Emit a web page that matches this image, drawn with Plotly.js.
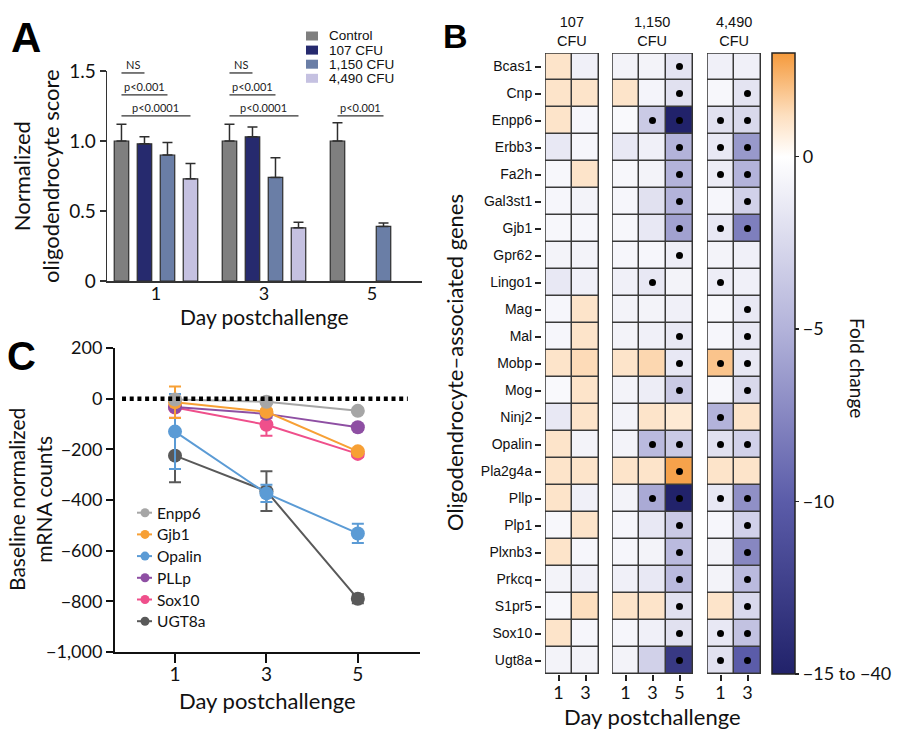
<!DOCTYPE html>
<html><head><meta charset="utf-8">
<script src="https://cdn.plot.ly/plotly-3.0.1.min.js"></script>
<style>html,body{margin:0;padding:0;background:#fff}#chart{width:900px;height:733px}</style>
</head><body><div id="chart"></div>
<script>
// ---------------- Panel A data ----------------
const daysA = [1, 3, 5];
const groupNames = ['Control', '107 CFU', '1,150 CFU', '4,490 CFU'];
const groupColors = ['#7f7f7f', '#262a6e', '#6a7ea6', '#c5c1e1'];
const scoreControl = [1.00, 1.00, 1.00];
const score107 = [0.98, 1.03, null];
const score1150 = [0.90, 0.74, 0.39];
const score4490 = [0.73, 0.38, null];
const errControl = [0.12, 0.12, 0.13];
const err107 = [0.05, 0.07, 0];
const err1150 = [0.09, 0.14, 0.025];
const err4490 = [0.11, 0.04, 0];
const sigDay = [1, 1, 1, 3, 3, 3, 5];
const sigGroup = [1, 2, 3, 1, 2, 3, 2];
const sigRank = [0, 1, 2, 0, 1, 2, 2];
const sigText = ['NS', 'p<0.001', 'p<0.0001', 'NS', 'p<0.001', 'p<0.0001', 'p<0.001'];

// ---------------- Panel C data ----------------
const daysC = [1, 3, 5];
const geneNamesC = ['Enpp6', 'Gjb1', 'Opalin', 'PLLp', 'Sox10', 'UGT8a'];
const geneColorsC = ['#a6a6a6', '#f7a035', '#5b9bd5', '#8e4fa3', '#ef4f8b', '#595959'];
const countsEnpp6 = [-3, -12, -48];
const countsGjb1 = [-14, -52, -208];
const countsOpalin = [-130, -374, -532];
const countsPllp = [-33, -60, -113];
const countsSox10 = [-35, -103, -218];
const countsUgt8a = [-225, -365, -790];
const errEnpp6 = [8, 8, 8];
const errGjb1 = [62, 10, 10];
const errOpalin = [148, 34, 38];
const errPllp = [10, 15, 10];
const errSox10 = [40, 43, 12];
const errUgt8a = [105, 78, 18];
const yTicksC = [200, 0, -200, -400, -600, -800, -1000];
const yTickTextC = ['200', '0', '\u2212200', '\u2212400', '\u2212600', '\u2212800', '\u22121,000'];

// ---------------- Panel B data ----------------
const genes = ['Bcas1','Cnp','Enpp6','Erbb3','Fa2h','Gal3st1','Gjb1','Gpr62','Lingo1','Mag','Mal','Mobp','Mog','Ninj2','Opalin','Pla2g4a','Pllp','Plp1','Plxnb3','Prkcq','S1pr5','Sox10','Ugt8a'];
const fold107D1  = [1.0, 1.0, 1.0, -1.5, -0.5, -0.6, -0.5, -0.8, -1.5, -0.6, -0.6, 1.0, -0.4, -1.5, 1.0, 1.0, 1.0, -0.5, 1.0, -0.8, -0.5, 1.0, -0.8];
const fold107D3  = [-1.0, 1.0, -0.6, -0.6, 1.0, -0.8, -0.6, -0.8, -1.0, 1.0, 1.0, 1.3, 1.0, 1.0, -0.8, 1.0, -1.0, 1.0, -0.6, -1.0, 1.2, -0.6, -0.8];
const fold1150D1 = [-0.8, 1.0, -0.4, -1.5, -0.5, -0.6, -0.5, -0.6, -1.0, -0.8, -0.8, 1.0, -0.8, -0.8, -0.8, 1.0, -0.8, -0.6, -0.6, -1.0, 1.0, -0.6, -0.8];
const fold1150D3 = [-0.8, -0.7, -3.5, -1.0, -0.8, -2.0, -1.5, -0.6, -1.5, -0.8, -1.0, 1.4, -1.2, 1.0, -4.5, 1.0, -5.5, -1.5, -0.8, -1.5, 1.0, -1.0, -3.0];
const fold1150D5 = [-1.8, -2.0, -15, -5.0, -5.0, -5.0, -6.0, -1.2, -0.8, -1.0, -1.5, -1.5, -3.5, 0.8, -3.5, 2.8, -15, -3.5, -4.5, -4.5, -2.0, -2.0, -13];
const fold4490D1 = [-1.0, -0.5, -2.0, -1.5, -1.2, -0.6, -1.5, -0.8, -1.2, -0.5, -0.6, 1.9, -0.5, -5.0, -2.0, 1.0, -1.5, -0.6, -0.8, -0.8, 1.0, -1.5, -2.0];
const fold4490D3 = [-1.0, -1.8, -2.5, -6.5, -5.0, -3.0, -8.0, -1.0, -1.0, -1.5, -1.5, -1.5, -2.5, 1.0, -3.0, 1.0, -7.0, -3.0, -7.5, -4.5, -2.5, -4.0, -10];
const dot107D1  = [0,0,0,0,0,0,0,0,0,0,0,0,0,0,0,0,0,0,0,0,0,0,0];
const dot107D3  = [0,0,0,0,0,0,0,0,0,0,0,0,0,0,0,0,0,0,0,0,0,0,0];
const dot1150D1 = [0,0,0,0,0,0,0,0,0,0,0,0,0,0,0,0,0,0,0,0,0,0,0];
const dot1150D3 = [0,0,1,0,0,0,0,0,1,0,0,0,0,0,1,0,1,0,0,0,0,0,0];
const dot1150D5 = [1,1,1,1,1,1,1,1,0,0,1,1,1,0,1,1,1,1,1,1,1,1,1];
const dot4490D1 = [0,0,1,1,1,0,1,0,1,0,0,1,0,1,1,0,1,0,0,0,0,1,1];
const dot4490D3 = [0,1,1,1,1,1,1,0,0,1,1,1,1,0,1,0,1,1,1,1,1,1,1];
const blockNames = ['107<br>CFU', '1,150<br>CFU', '4,490<br>CFU'];
const blockDays = [['1','3'], ['1','3','5'], ['1','3']];
const colorbarTicks = [0, -5, -10, -15];
const colorbarText = ['0', '\u22125', '\u221210', '\u221215 to \u221240'];

// ---------------- helpers ----------------
const W = 900, H = 733;
const fx = v => v / W;
const fy = v => 1 - v / H;
const CAL = 'Lato, "Open Sans", sans-serif';
const ARI = '"Liberation Sans", Arial, sans-serif';

const data = [];
const shapes = [];
const annotations = [];

// ---------------- Panel A ----------------
const bargap = 0.148, bargroupgap = 0.37;
const slot = 2 * (1 - bargap) / groupNames.length;
const offsetOf = g => (g - (groupNames.length - 1) / 2) * slot;
const scoreSeries = [scoreControl, score107, score1150, score4490];
const errSeries = [errControl, err107, err1150, err4490];
groupNames.forEach((name, i) => {
  data.push({
    type: 'bar', x: daysA, y: scoreSeries[i], name: name, xaxis: 'x', yaxis: 'y',
    marker: {color: groupColors[i], line: {color: '#2e2e2e', width: 1.2}},
    error_y: {type: 'data', symmetric: false, array: errSeries[i], arrayminus: daysA.map(() => 0),
              color: '#2e2e2e', thickness: 1.5, width: 5},
    showlegend: false, hoverinfo: 'skip'
  });
});
const sigLevels = [1.486, 1.329, 1.179];
sigText.forEach((t, k) => {
  const x0 = sigDay[k] + offsetOf(0), x1 = sigDay[k] + offsetOf(sigGroup[k]);
  const yl = sigLevels[sigRank[k]];
  shapes.push({type: 'line', xref: 'x', yref: 'y', x0: x0, x1: x1, y0: yl, y1: yl,
               line: {color: '#333', width: 1.3}});
  annotations.push({xref: 'x', yref: 'y', x: (x0 + x1) / 2, y: yl, yanchor: 'bottom', xanchor: 'center',
                    text: t, showarrow: false, font: {family: CAL, size: 11, color: '#222'}, yshift: 0});
});
// legend A
groupNames.forEach((name, i) => {
  const cy = 36 + i * 14.1;
  shapes.push({type: 'rect', xref: 'paper', yref: 'paper', x0: fx(306), x1: fx(318), y0: fy(cy + 4.5), y1: fy(cy - 4.5),
               fillcolor: groupColors[i], line: {width: 0}});
  annotations.push({xref: 'paper', yref: 'paper', x: fx(327), y: fy(cy), xanchor: 'left', yanchor: 'middle',
                    text: name, showarrow: false, font: {family: ARI, size: 13.5, color: '#111'}});
});

// ---------------- Panel C ----------------
const countsSeries = [countsEnpp6, countsGjb1, countsOpalin, countsPllp, countsSox10, countsUgt8a];
const errSeriesC = [errEnpp6, errGjb1, errOpalin, errPllp, errSox10, errUgt8a];
for (let i = geneNamesC.length - 1; i >= 0; i--) {
  data.push({
    type: 'scatter', mode: 'lines+markers', x: daysC, y: countsSeries[i], name: geneNamesC[i],
    xaxis: 'x2', yaxis: 'y2',
    line: {color: geneColorsC[i], width: 2},
    marker: {color: geneColorsC[i], size: 14},
    error_y: {type: 'data', array: errSeriesC[i], color: geneColorsC[i], thickness: 2, width: 6},
    showlegend: false, hoverinfo: 'skip'
  });
}
shapes.push({type: 'line', xref: 'x2 domain', yref: 'y2', x0: 0.023, x1: 0.96, y0: 0, y1: 0,
             line: {color: '#000', width: 4.5, dash: '4px,3.7px'}});
geneNamesC.forEach((name, i) => {
  const cy = 512.7 + i * 21.7;
  shapes.push({type: 'line', xref: 'paper', yref: 'paper', x0: fx(137), x1: fx(152), y0: fy(cy), y1: fy(cy),
               line: {color: geneColorsC[i], width: 2}});
  shapes.push({type: 'circle', xref: 'paper', yref: 'paper', xsizemode: 'pixel', ysizemode: 'pixel',
               xanchor: fx(145), yanchor: fy(cy), x0: -4.5, x1: 4.5, y0: -4.5, y1: 4.5,
               fillcolor: geneColorsC[i], line: {width: 0}});
  annotations.push({xref: 'paper', yref: 'paper', x: fx(155), y: fy(cy), xanchor: 'left', yanchor: 'middle',
                    text: name, showarrow: false, font: {family: CAL, size: 15.5, color: '#111'}});
});

// ---------------- Panel B ----------------
const foldColorscale = [[0, '#21226a'], [0.278, '#5b5ca9'], [0.556, '#b3b3da'], [0.833, '#ffffff'], [0.9, '#fddfbf'], [1, '#f59a3c']];
const blocks = [
  {cols: [fold107D1, fold107D3], dots: [dot107D1, dot107D3], xa: 'x3', dom: [545, 599], hx: 572},
  {cols: [fold1150D1, fold1150D3, fold1150D5], dots: [dot1150D1, dot1150D3, dot1150D5], xa: 'x4', dom: [612, 693], hx: 652},
  {cols: [fold4490D1, fold4490D3], dots: [dot4490D1, dot4490D3], xa: 'x5', dom: [707, 761], hx: 734}
];
const layoutAxes = {};
blocks.forEach((b, bi) => {
  const n = b.cols.length;
  const xs = b.cols.map((c, i) => i);
  const z = genes.map((g, r) => b.cols.map(c => c[r]));
  data.push({
    type: 'heatmap', x: xs, y: genes, z: z, xaxis: b.xa, yaxis: 'y3',
    zmin: -15, zmax: 3, colorscale: foldColorscale, xgap: 1.5, ygap: 1.5,
    showscale: bi === 0, hoverinfo: 'skip',
    colorbar: {x: fx(772), xanchor: 'left', xpad: 0, ypad: 0, y: fy(53), yanchor: 'top',
               len: 621 / H, lenmode: 'fraction', thickness: 23, thicknessmode: 'pixels',
               outlinewidth: 1.5, outlinecolor: '#222', tickvals: colorbarTicks, ticktext: colorbarText,
               ticks: 'outside', ticklen: 4, tickwidth: 1.5, tickcolor: '#222',
               tickfont: {family: CAL, size: 18, color: '#111'}}
  });
  const dx = [], dy = [];
  b.dots.forEach((d, ci) => d.forEach((v, r) => { if (v) { dx.push(ci); dy.push(genes[r]); } }));
  data.push({type: 'scatter', mode: 'markers', x: dx, y: dy, xaxis: b.xa, yaxis: 'y3',
             marker: {color: '#000', size: 7}, showlegend: false, hoverinfo: 'skip'});
  shapes.push({type: 'rect', layer: 'below', xref: b.xa, yref: 'y3', x0: -0.5, x1: n - 0.5, y0: -0.5, y1: genes.length - 0.5,
               fillcolor: '#3a3a3a', line: {width: 0}});
  shapes.push({type: 'rect', layer: 'above', xref: b.xa, yref: 'y3', x0: -0.5, x1: n - 0.5, y0: -0.5, y1: genes.length - 0.5,
               fillcolor: 'rgba(0,0,0,0)', line: {color: '#333', width: 1.5}});
  const key = 'xaxis' + b.xa.slice(1);
  layoutAxes[key] = {domain: [fx(b.dom[0]), fx(b.dom[1])], anchor: 'y3', range: [-0.5, n - 0.5],
    tickvals: xs, ticktext: blockDays[bi], ticks: 'outside', ticklen: 6, tickwidth: 2, tickcolor: '#222',
    ticklabelstandoff: -4,
    showline: false, showgrid: false, zeroline: false, tickfont: {family: CAL, size: 18, color: '#111'}, fixedrange: true};
  annotations.push({xref: 'paper', yref: 'paper', x: fx(b.hx), y: fy(32), xanchor: 'center', yanchor: 'middle',
                    text: blockNames[bi], showarrow: false, font: {family: ARI, size: 14.5, color: '#111'}});
});

// ---------------- titles / labels ----------------
annotations.push(
  {xref: 'paper', yref: 'paper', x: fx(9), y: fy(37), xanchor: 'left', yanchor: 'middle', text: '<b>A</b>', showarrow: false, font: {family: ARI, size: 42, color: '#000'}},
  {xref: 'paper', yref: 'paper', x: fx(441), y: fy(36), xanchor: 'left', yanchor: 'middle', text: '<b>B</b>', showarrow: false, font: {family: ARI, size: 34, color: '#000'}},
  {xref: 'paper', yref: 'paper', x: fx(5), y: fy(356), xanchor: 'left', yanchor: 'middle', text: '<b>C</b>', showarrow: false, font: {family: ARI, size: 40, color: '#000'}},
  {xref: 'paper', yref: 'paper', x: fx(36), y: fy(176), xanchor: 'center', yanchor: 'middle', textangle: -90, text: 'Normalized<br>oligodendrocyte score', showarrow: false, font: {family: CAL, size: 22, color: '#111'}},
  {xref: 'paper', yref: 'paper', x: fx(264), y: fy(316), xanchor: 'center', yanchor: 'middle', text: 'Day postchallenge', showarrow: false, font: {family: CAL, size: 21, color: '#111'}},
  {xref: 'paper', yref: 'paper', x: fx(30), y: fy(500), xanchor: 'center', yanchor: 'middle', textangle: -90, text: 'Baseline normalized<br>mRNA counts', showarrow: false, font: {family: CAL, size: 21, color: '#111'}},
  {xref: 'paper', yref: 'paper', x: fx(267), y: fy(700), xanchor: 'center', yanchor: 'middle', text: 'Day postchallenge', showarrow: false, font: {family: CAL, size: 22, color: '#111'}},
  {xref: 'paper', yref: 'paper', x: fx(652), y: fy(716), xanchor: 'center', yanchor: 'middle', text: 'Day postchallenge', showarrow: false, font: {family: CAL, size: 22, color: '#111'}},
  {xref: 'paper', yref: 'paper', x: fx(454), y: fy(363), xanchor: 'center', yanchor: 'middle', textangle: -90, text: 'Oligodendrocyte\u2013associated genes', showarrow: false, font: {family: CAL, size: 22, color: '#111'}},
  {xref: 'paper', yref: 'paper', x: fx(858), y: fy(368), xanchor: 'center', yanchor: 'middle', textangle: 90, text: 'Fold change', showarrow: false, font: {family: CAL, size: 19, color: '#111'}}
);

const layout = Object.assign({
  width: W, height: H, margin: {l: 0, r: 0, t: 0, b: 0},
  paper_bgcolor: '#fff', plot_bgcolor: 'rgba(0,0,0,0)', showlegend: false,
  barmode: 'group', bargap: bargap, bargroupgap: bargroupgap,
  xaxis: {domain: [fx(107), fx(422)], anchor: 'y', range: [0.093, 5.926], tickvals: daysA, ticktext: daysA.map(String),
          ticks: '', ticklabelstandoff: -4, showline: true, linecolor: '#333', linewidth: 1.5, showgrid: false, zeroline: false,
          tickfont: {family: CAL, size: 18, color: '#111'}},
  yaxis: {domain: [fy(281), fy(71)], anchor: 'x', range: [0, 1.5], tickvals: [0, 0.5, 1, 1.5], ticktext: ['0', '0.5', '1.0', '1.5'],
          ticks: 'outside', ticklen: 6, tickwidth: 1.5, tickcolor: '#333', showline: true, linecolor: '#333', linewidth: 1.5,
          showgrid: false, zeroline: false, tickfont: {family: CAL, size: 19, color: '#111'}},
  xaxis2: {domain: [fx(115), fx(420)], anchor: 'y2', range: [-0.313, 6.36], tickvals: daysC, ticktext: daysC.map(String),
           ticks: 'outside', ticklen: 9, tickwidth: 2, tickcolor: '#111', ticklabelstandoff: -5,
           showline: true, linecolor: '#111', linewidth: 2,
           showgrid: false, zeroline: false, tickfont: {family: CAL, size: 19, color: '#111'}},
  yaxis2: {domain: [fy(652), fy(348)], anchor: 'x2', range: [-1000, 200], tickvals: yTicksC, ticktext: yTickTextC,
           ticks: 'outside', ticklen: 7, tickwidth: 2, tickcolor: '#111', showline: true, linecolor: '#111', linewidth: 2,
           showgrid: false, zeroline: false, tickfont: {family: CAL, size: 18, color: '#111'}},
  yaxis3: {domain: [fy(674), fy(53)], anchor: 'free', position: fx(541), type: 'category',
           categoryorder: 'array', categoryarray: genes, range: [genes.length - 0.5, -0.5], autorange: false,
           ticks: 'outside', ticklen: 6, tickwidth: 2, tickcolor: '#222', showline: false, showgrid: false, zeroline: false,
           tickfont: {family: ARI, size: 14, color: '#111'}},
  shapes: shapes, annotations: annotations
}, layoutAxes);

Plotly.newPlot('chart', data, layout, {displayModeBar: false, staticPlot: true});
</script></body></html>
